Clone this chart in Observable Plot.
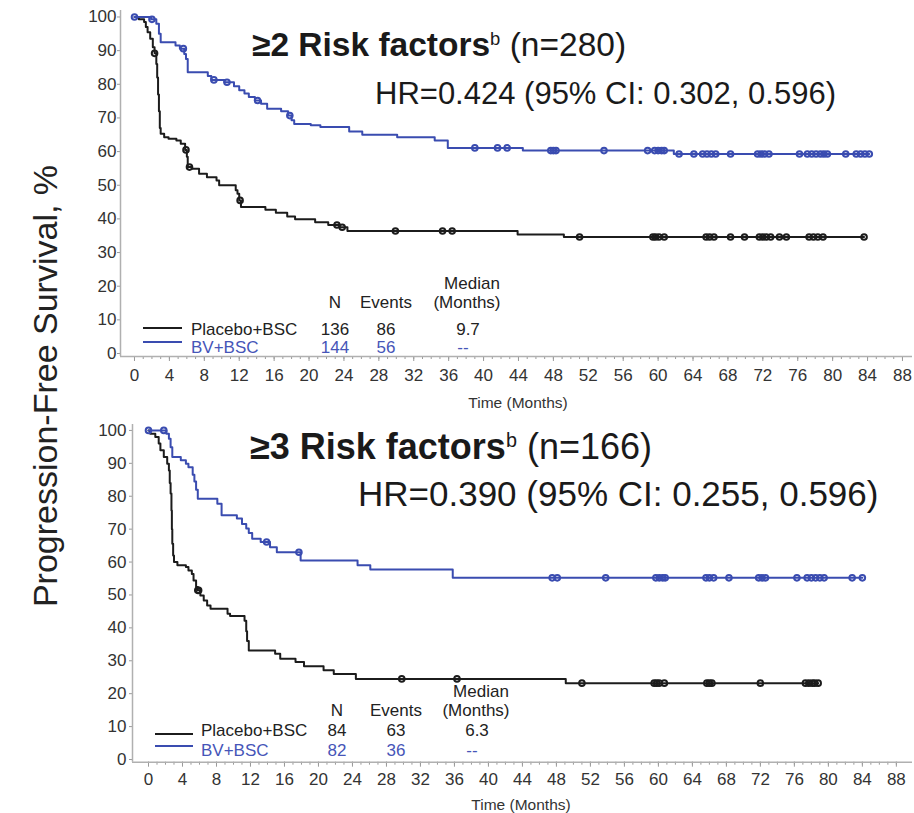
<!DOCTYPE html>
<html><head><meta charset="utf-8">
<script src="https://cdn.jsdelivr.net/npm/d3@7"></script>
<script src="https://cdn.jsdelivr.net/npm/@observablehq/plot@0.6"></script>
<style>
body{margin:0;background:#fff;}
#root{position:relative;width:914px;height:813px;overflow:hidden;font-family:"Liberation Sans",Arial,sans-serif;color:#222;}
#root svg{position:absolute;left:0;}
.t{position:absolute;white-space:nowrap;line-height:1;}
.t sup{font-size:0.55em;vertical-align:0.6em;font-weight:normal;}
</style></head><body><div id="root"></div>
<script>
// ---------- data ----------
const xTicks = d3.range(0, 89, 4);
const xMinor = d3.range(0, 89, 1);
const yTicks = d3.range(0, 101, 10);
const groups = ["Placebo+BSC", "BV+BSC"];

// Panel A: ≥2 risk factors (n=280)
const aPlaceboT = [0,0.5,1.1,1.3,1.5,1.8,2.1,2.3,2.5,2.6,2.7,2.8,2.9,3.0,3.4,3.9,4.8,5.3,5.8,6.0,6.1,6.6,7.4,8.3,9.4,9.7,11.6,11.8,12.0,12.2,15.0,16.2,17.5,18.4,20.7,22.2,23.5,24.4,43.9,49.2];
const aPlaceboS = [100,99.3,98.5,97,95.5,93.5,91,89.2,86,82,77,72,67,65.3,64.3,63.8,63.3,62.3,60.5,58.5,55.4,54.9,53.4,52.4,51.4,50.0,48.5,47.5,45.5,43.5,42.7,41.8,40.7,39.9,39.0,38.2,37.5,36.4,35.4,34.6];
const aPlaceboEnd = 83.6;
const aPlaceboCens = [2.3,5.9,6.3,12.1,23.2,23.8,29.9,35.3,36.4,51.0,59.4,59.7,60.1,60.7,65.5,65.9,66.4,68.3,69.9,71.6,72.0,72.4,72.9,73.9,74.7,77.3,77.8,78.3,78.9,83.6];
const aBvT = [0,1.9,2.5,2.8,3.0,4.7,5.2,5.7,5.9,6.1,8.4,8.8,10.3,11.4,12.0,12.6,13.1,13.8,14.5,15.2,16.8,17.6,18.0,18.3,20.2,21.3,24.6,26.1,30.1,34.4,35.9,44.5,61.8];
const aBvS = [100,99.3,98,95,92.5,91.5,90.6,89.0,87.5,83.6,82.5,81.3,80.6,79.4,78.2,77.3,76.2,75.2,74.2,72.7,72.0,70.7,69.3,68.2,67.8,67.3,66.0,65.0,64.3,63.3,61.1,60.3,59.3];
const aBvEnd = 84.2;
const aBvCens = [0,2.0,5.6,9.1,10.6,14.1,17.8,39.0,41.6,42.7,47.7,48.0,48.3,53.8,58.8,59.6,60.0,60.4,60.7,62.4,64.1,65.1,65.6,66.1,66.6,68.3,71.4,71.8,72.2,72.7,76.2,77.1,77.6,78.1,78.6,79.0,79.4,81.5,82.7,83.2,83.7,84.2];
const aN = [136, 144];
const aEvents = [86, 56];
const aMedian = ["9.7", "--"];
const aTitle = "≥2 Risk factors", aTitleN = "(n=280)";
const aHR = "HR=0.424 (95% CI: 0.302, 0.596)";

// Panel B: ≥3 risk factors (n=166)
const bPlaceboT = [0,0.2,0.8,1.2,1.4,1.8,2.2,2.4,2.5,2.6,2.7,2.75,2.8,2.9,3.0,3.4,4.4,4.7,5.1,5.3,5.6,5.8,6.1,6.5,6.9,7.3,9.3,9.6,11.3,11.5,11.6,11.8,14.9,15.5,17.3,18.3,20.6,21.8,24.4,49.1];
const bPlaceboS = [100,99,98,96,94,91.9,89.9,87.8,84,80.8,75.7,70,65.6,62,60,59,58.5,57.4,56.4,54.4,52.4,51.4,49.8,48.3,46.8,45.8,44.3,43.6,42.2,39,36,33.1,32.1,30.6,29.6,28.3,27.1,26.0,24.5,23.2];
const bPlaceboEnd = 78.8;
const bPlaceboCens = [5.8,5.9,29.8,36.3,51.0,59.5,59.8,60.1,60.7,65.7,66.0,66.3,72.0,77.3,77.7,78.1,78.4,78.8];
const bBvT = [0,2.1,2.4,2.6,2.8,3.8,4.4,4.7,5.2,5.4,5.6,5.8,8.1,8.6,10.4,11.0,11.5,11.8,12.2,13.2,14.3,15.1,17.9,24.6,26.1,35.8];
const bBvS = [100,99,97.5,94.9,91.9,90.9,89.9,88.8,86.5,84.5,82,79.2,77.7,74.2,73.2,71.6,70.2,68.8,67.1,66.1,64.5,63.0,60.5,59.0,57.7,55.2];
const bBvEnd = 84.0;
const bBvCens = [0,1.8,13.9,17.7,47.5,48.1,53.8,59.7,60.1,60.5,60.8,65.6,66.0,66.5,68.3,71.8,72.2,72.6,76.3,77.5,78.0,78.5,79.0,79.5,82.8,84.0];
const bN = [84, 82];
const bEvents = [63, 36];
const bMedian = ["6.3", "--"];
const bTitle = "≥3 Risk factors", bTitleN = "(n=166)";
const bHR = "HR=0.390 (95% CI: 0.255, 0.596)";

const yLabel = "Progression-Free Survival, %";
const xLabel = "Time (Months)";

// ---------- helpers ----------
const BLACK = "#1c1c1c", BLUE = "#3a4cb0", BLUE_TXT = "#4655b8";
function steps(T, S, end) {
  const d = T.map((t, i) => ({t, s: S[i]}));
  d.push({t: end, s: S[S.length - 1]});
  return d;
}
function cens(T, S, C) {
  return C.map(c => {
    let i = d3.bisectRight(T, c) - 1;
    return {t: c, s: S[Math.max(0, i)]};
  });
}
const root = document.getElementById("root");
function txt(html, x, y, o = {}) {
  const d = document.createElement("div");
  d.className = "t";
  d.innerHTML = html;
  d.style.left = x + "px";
  d.style.top = y + "px";
  d.style.fontSize = (o.size || 18) + "px";
  if (o.color) d.style.color = o.color;
  if (o.weight) d.style.fontWeight = o.weight;
  const ax = o.anchor === "middle" ? "-50%" : o.anchor === "end" ? "-100%" : "0";
  d.style.transform = `translate(${ax},-50%)` + (o.extra || "");
  root.appendChild(d);
  return d;
}

function panel(cfg) {
  const svg = Plot.plot({
    width: 914, height: cfg.height,
    marginLeft: cfg.ml, marginRight: cfg.mr, marginTop: cfg.mt, marginBottom: cfg.mb,
    style: {fontFamily: '"Liberation Sans", Arial, sans-serif', fontSize: "17px", background: "transparent", color: "#333"},
    x: {domain: cfg.xd, label: null},
    y: {domain: cfg.yd, label: null},
    marks: [
      Plot.axisX({ticks: xMinor, tickSize: 3, stroke: "#9a9a9a", fill: "none", label: null}),
      Plot.axisX({ticks: xTicks, tickSize: 5, tickPadding: cfg.xpad, stroke: "#9a9a9a", fill: "#333", fontSize: 17, label: null}),
      Plot.axisY({ticks: yTicks, tickSize: 3, tickPadding: cfg.ypad, stroke: "#9a9a9a", fill: "#333", fontSize: 17, label: null}),
      Plot.ruleX([cfg.xd[0]], {stroke: "#b0b0b0", strokeWidth: 1.5}),
      Plot.ruleY([cfg.yd[0]], {stroke: "#b0b0b0", strokeWidth: 1.5}),
      Plot.line(steps(...cfg.placebo), {x: "t", y: "s", curve: "step-after", stroke: BLACK, strokeWidth: 2}),
      Plot.line(steps(...cfg.bv), {x: "t", y: "s", curve: "step-after", stroke: BLUE, strokeWidth: 2}),
      Plot.dot(cens(...cfg.placeboC), {x: "t", y: "s", r: 2.8, stroke: BLACK, strokeWidth: 2, fill: "none"}),
      Plot.dot(cens(...cfg.bvC), {x: "t", y: "s", r: 2.8, stroke: BLUE, strokeWidth: 2, fill: "none"})
    ]
  });
  svg.style.top = cfg.top + "px";
  root.appendChild(svg);
}

panel({top: 0, height: 410, ml: 120, mr: 2, mt: 10, mb: 54, xd: [-1.604, 89.15], yd: [-0.89, 101.93], xpad: 7, ypad: 1,
  placebo: [aPlaceboT, aPlaceboS, aPlaceboEnd], bv: [aBvT, aBvS, aBvEnd],
  placeboC: [aPlaceboT, aPlaceboS, aPlaceboCens], bvC: [aBvT, aBvS, aBvCens]});
panel({top: 415, height: 398, ml: 132, mr: 2, mt: 9, mb: 51.3, xd: [-1.883, 89.9], yd: [-0.82, 101.8], xpad: 6, ypad: 3,
  placebo: [bPlaceboT, bPlaceboS, bPlaceboEnd], bv: [bBvT, bBvS, bBvEnd],
  placeboC: [bPlaceboT, bPlaceboS, bPlaceboCens], bvC: [bBvT, bBvS, bBvCens]});

// ---------- annotations ----------
txt(yLabel, 45, 386, {size: 34, anchor: "middle", extra: " rotate(-90deg)", color: "#222"});
txt(xLabel, 518, 403, {size: 15.5, anchor: "middle", color: "#333"});
txt(xLabel, 521, 805, {size: 15.5, anchor: "middle", color: "#333"});

// titles
txt(`<b>${aTitle}</b><sup>b</sup> ${aTitleN}`, 252, 45, {size: 33.5, color: "#1a1a1a"});
txt(aHR, 375, 93, {size: 31, color: "#1a1a1a"});
txt(`<b>${bTitle}</b><sup>b</sup> ${bTitleN}`, 250, 447, {size: 36, color: "#1a1a1a"});
txt(bHR, 358, 493, {size: 35, color: "#1a1a1a"});

function legend(L) {
  const fs = 17;
  txt("N", L.nx, L.hy, {size: fs, anchor: "middle"});
  txt("Events", L.ex, L.hy, {size: fs, anchor: "middle"});
  txt("Median", L.mx + 5, L.hy - 19, {size: fs, anchor: "middle"});
  txt("(Months)", L.mx, L.hy, {size: fs, anchor: "middle"});
  groups.forEach((g, i) => {
    const c = i === 0 ? "#222" : BLUE_TXT;
    const y = L.rows[i];
    const line = document.createElement("div");
    line.style.cssText = `position:absolute;left:${L.lx0}px;width:${L.lx1 - L.lx0}px;top:${L.lines[i] - 1}px;height:2px;background:${i === 0 ? BLACK : BLUE};`;
    root.appendChild(line);
    txt(g, L.gx, y, {size: fs, color: c});
    txt(String(L.n[i]), L.nx, y, {size: fs, color: c, anchor: "middle"});
    txt(String(L.ev[i]), L.ex, y, {size: fs, color: c, anchor: "middle"});
    txt(L.med[i], L.mx + (i === 0 ? 1 : -4), y, {size: fs, color: c, anchor: "middle"});
  });
}
legend({nx: 335, ex: 386, mx: 467, hy: 301.5, rows: [328.5, 346.5], lines: [327.7, 341.7], lx0: 143, lx1: 182, gx: 191,
  n: aN, ev: aEvents, med: aMedian});
legend({nx: 337, ex: 396, mx: 476, hy: 710, rows: [730, 750], lines: [734.3, 745.7], lx0: 155, lx1: 193, gx: 201,
  n: bN, ev: bEvents, med: bMedian});
</script></body></html>
